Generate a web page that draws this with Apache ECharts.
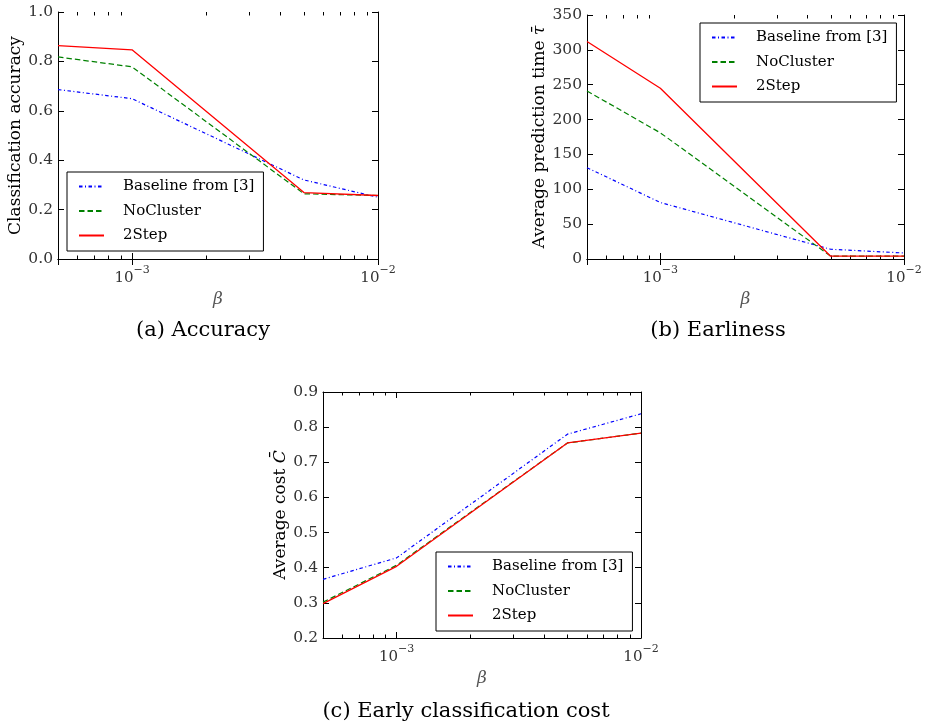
<!DOCTYPE html>
<html>
<head>
<meta charset="utf-8">
<script src="https://cdn.jsdelivr.net/npm/echarts@6/dist/echarts.min.js"></script>
<style>
html,body{margin:0;padding:0;background:#fff;}
#c{width:925px;height:726px;}
</style>
</head>
<body>
<div id="c"></div>
<script>
// ---- data ----
const betas = [5e-4, 1e-3, 5e-3, 1e-2];
const seriesNames = ['Baseline from [3]', 'NoCluster', '2Step'];

const accBaseline = [0.686, 0.649, 0.320, 0.250];
const accNoCluster = [0.818, 0.778, 0.264, 0.257];
const acc2Step = [0.864, 0.847, 0.269, 0.257];

const earlBaseline = [131, 81, 14, 8.6];
const earlNoCluster = [241, 181, 4, 4];
const earl2Step = [312, 245, 4, 4];

const costBaseline = [0.367, 0.428, 0.780, 0.838];
const costNoCluster = [0.302, 0.407, 0.755, 0.783];
const cost2Step = [0.298, 0.404, 0.755, 0.783];

const minorTickValues = [6e-4, 7e-4, 8e-4, 9e-4, 2e-3, 3e-3, 4e-3, 5e-3, 6e-3, 7e-3, 8e-3, 9e-3];

const yMins = [0, 0, 0.2];
const yMaxs = [1.0, 350, 0.9];
const yIntervals = [0.2, 50, 0.1];
const yNames = ['Classification accuracy', 'Average prediction time {i|τ̄}', 'Average cost {i|C̄}'];
const captions = ['(a) Accuracy', '(b) Earliness', '(c) Early classification cost'];

// ---- layout ----
const FONT = 'DejaVu Serif';
const grids = [
  {left: 58, top: 12, width: 320, height: 247},
  {left: 587, top: 15, width: 317, height: 244},
  {left: 323, top: 392, width: 318, height: 246}
];
const yNameGaps = [33, 35, 31];
const legendPos = [
  {left: 67, top: 172},
  {left: 700, top: 23},
  {left: 436, top: 552}
];
const captionPos = [[203, 331], [718, 331], [466, 712]];

const lineStyles = [
  {color: '#0000ff', width: 1.2, type: [3.5, 2.5, 1, 2.5]},
  {color: '#008000', width: 1.2, type: [5.5, 3]},
  {color: '#ff0000', width: 1.3, type: 'solid'}
];

const dataSets = [
  [accBaseline, accNoCluster, acc2Step],
  [earlBaseline, earlNoCluster, earl2Step],
  [costBaseline, costNoCluster, cost2Step]
];

const xAxes = [], yAxes = [], series = [], legends = [], graphics = [];
const LABEL_COLOR = '#333';

for (let g = 0; g < 3; g++) {
  xAxes.push({
    type: 'log', logBase: 10, min: 5e-4, max: 1e-2, gridIndex: g,
    position: 'bottom',
    splitLine: {show: false},
    axisLine: {show: true, lineStyle: {color: '#000', width: 1}},
    name: 'β', nameLocation: 'middle', nameGap: 32,
    nameTextStyle: {fontFamily: FONT, fontSize: 17, fontStyle: 'italic', color: '#555'},
    axisTick: {show: true, inside: true, length: 6, lineStyle: {color: '#000'}},
    axisLabel: {
      show: true, margin: 6, color: LABEL_COLOR, fontFamily: FONT,
      formatter: function (v) {
        const e = Math.log10(v);
        if (Math.abs(e - Math.round(e)) > 1e-6) return '';
        return '{b|10}{s|' + (Math.round(e) < 0 ? '−' : '') + Math.abs(Math.round(e)) + '}';
      },
      rich: {
        b: {fontFamily: FONT, fontSize: 15, color: LABEL_COLOR, lineHeight: 21, verticalAlign: 'bottom'},
        s: {fontFamily: FONT, fontSize: 11, color: LABEL_COLOR, lineHeight: 12, verticalAlign: 'top'}
      }
    }
  });
}
for (let g = 0; g < 3; g++) {
  xAxes.push({
    type: 'log', logBase: 10, min: 5e-4, max: 1e-2, gridIndex: g, position: 'top',
    splitLine: {show: false},
    axisLine: {show: true, lineStyle: {color: '#000', width: 1}},
    axisTick: {show: true, inside: true, length: 6, lineStyle: {color: '#000'}},
    axisLabel: {show: false}
  });
}
for (let g = 0; g < 3; g++) {
  yAxes.push({
    type: 'value', gridIndex: g, position: 'left',
    min: yMins[g], max: yMaxs[g], interval: yIntervals[g],
    splitLine: {show: false},
    axisLine: {show: true, lineStyle: {color: '#000', width: 1}},
    axisTick: {show: true, inside: true, length: 6, lineStyle: {color: '#000'}},
    axisLabel: {
      margin: 5, color: LABEL_COLOR, fontFamily: FONT, fontSize: 15.5,
      formatter: g === 1 ? (v => String(Math.round(v))) : (v => v.toFixed(1))
    },
    name: yNames[g], nameLocation: 'middle', nameGap: yNameGaps[g],
    nameTextStyle: {fontFamily: FONT, fontSize: 17, color: '#000',
      rich: {i: {fontFamily: FONT, fontSize: 17, fontStyle: 'italic', color: '#000'}}}
  });
}
for (let g = 0; g < 3; g++) {
  yAxes.push({
    type: 'value', gridIndex: g, position: 'right',
    min: yMins[g], max: yMaxs[g], interval: yIntervals[g],
    splitLine: {show: false},
    axisLine: {show: true, lineStyle: {color: '#000', width: 1}},
    axisTick: {show: true, inside: true, length: 6, lineStyle: {color: '#000'}},
    axisLabel: {show: false}
  });
}

for (let g = 0; g < 3; g++) {
  for (let s = 0; s < 3; s++) {
    series.push({
      type: 'line', name: seriesNames[s],
      xAxisIndex: g, yAxisIndex: g,
      symbol: 'none', silent: true, animation: false,
      lineStyle: lineStyles[s], itemStyle: {color: lineStyles[s].color},
      data: betas.map((b, i) => [b, dataSets[g][s][i]]),
      z: 2 + s
    });
  }
  // minor ticks on log axis (bottom and top)
  series.push({
    type: 'custom', xAxisIndex: g, yAxisIndex: g, silent: true, animation: false,
    data: minorTickValues.map(v => [v, yMins[g]]),
    renderItem: function (params, api) {
      const cs = params.coordSys;
      const x = Math.round(api.coord([api.value(0), api.value(1)])[0]) + 0.5;
      return {
        type: 'group', children: [
          {type: 'line', shape: {x1: x, y1: cs.y + cs.height, x2: x, y2: cs.y + cs.height - 3.5}, style: {stroke: '#000', lineWidth: 1}},
          {type: 'line', shape: {x1: x, y1: cs.y, x2: x, y2: cs.y + 3.5}, style: {stroke: '#000', lineWidth: 1}}
        ]
      };
    },
    z: 1
  });
  legends.push({
    left: legendPos[g].left, top: legendPos[g].top,
    orient: 'vertical',
    data: seriesNames,
    selectedMode: false,
    backgroundColor: '#fff',
    borderColor: '#000', borderWidth: 1,
    padding: [7, 9, 8, 11],
    itemWidth: 25, itemHeight: 14, itemGap: 9.5,
    itemStyle: {color: 'rgba(0,0,0,0)', borderWidth: 0, opacity: 0},
    formatter: n => '{t|' + n + '}',
    textStyle: {
      fontFamily: FONT, fontSize: 15, color: '#000',
      rich: {t: {fontFamily: FONT, fontSize: 15, color: '#000', padding: [0, 0, 0, 14]}}
    }
  });
  graphics.push({
    type: 'text', x: captionPos[g][0], y: captionPos[g][1],
    style: {text: captions[g], fontFamily: FONT, fontSize: 21, fill: '#000', textAlign: 'center', textVerticalAlign: 'middle'}
  });
}

const chart = echarts.init(document.getElementById('c'), null, {renderer: 'canvas'});
chart.setOption({
  animation: false,
  backgroundColor: '#fff',
  grid: grids,
  xAxis: xAxes,
  yAxis: yAxes,
  series: series,
  legend: legends,
  graphic: graphics
});
</script>
</body>
</html>
